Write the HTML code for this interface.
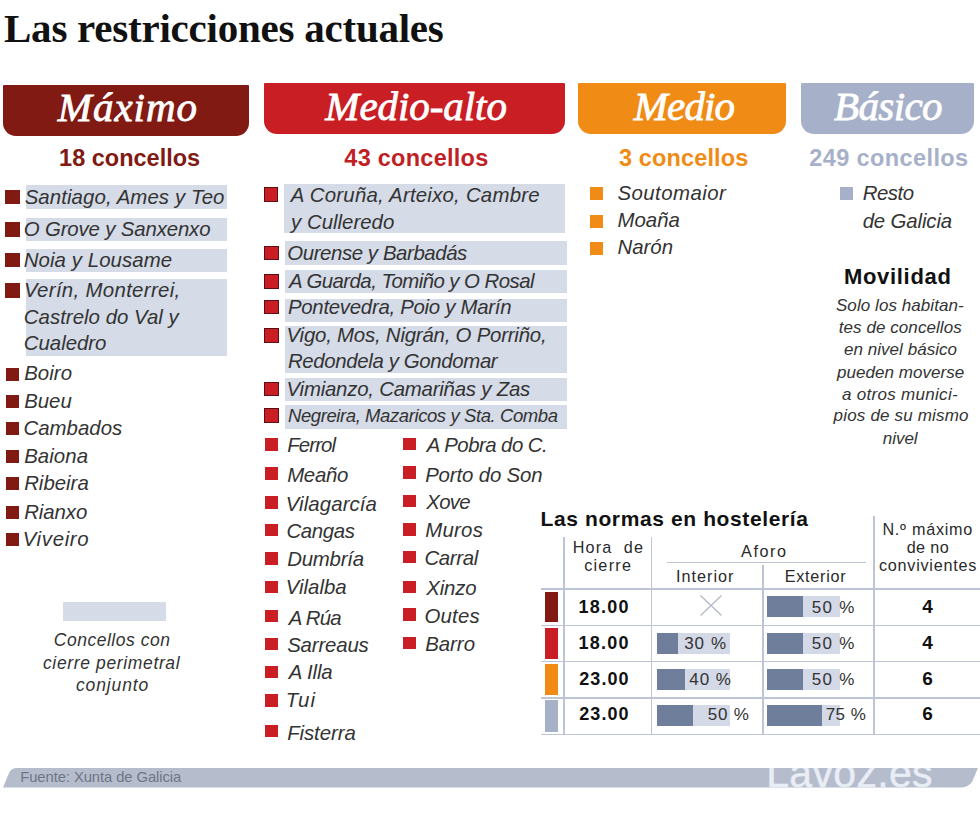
<!DOCTYPE html>
<html><head><meta charset="utf-8"><style>
html,body{margin:0;padding:0;background:#fff;}
body{width:980px;height:824px;position:relative;overflow:hidden;}
.t{position:absolute;white-space:nowrap;}
.r{position:absolute;}
.s{font-family:"Liberation Sans", sans-serif;}
.f{font-family:"Liberation Serif", serif;}
</style></head><body>
<div class="t f" style="left:4.00px;top:8.26px;font-size:41px;line-height:41px;font-weight:bold;color:#111;letter-spacing:-0.232px;">Las restricciones actuales</div>
<div class="r" style="left:3px;top:84.5px;width:246px;height:51px;background:#801a12;border-radius:1px 1px 13px 13px;"></div>
<div class="t f" style="left:57.82px;top:87.46px;font-size:41px;line-height:41px;font-style:italic;color:#fff;letter-spacing:0.982px;-webkit-text-stroke:0.8px #fff;">Máximo</div>
<div class="r" style="left:264px;top:83px;width:301px;height:51px;background:#c91f24;border-radius:1px 1px 13px 13px;"></div>
<div class="t f" style="left:325.31px;top:85.96px;font-size:41px;line-height:41px;font-style:italic;color:#fff;letter-spacing:-0.062px;-webkit-text-stroke:0.8px #fff;">Medio-alto</div>
<div class="r" style="left:578px;top:83px;width:208px;height:51px;background:#f08b16;border-radius:1px 1px 13px 13px;"></div>
<div class="t f" style="left:633.82px;top:85.96px;font-size:41px;line-height:41px;font-style:italic;color:#fff;letter-spacing:-0.892px;-webkit-text-stroke:0.8px #fff;">Medio</div>
<div class="r" style="left:801px;top:83px;width:173px;height:51px;background:#a6b1c9;border-radius:1px 1px 13px 13px;"></div>
<div class="t f" style="left:834.00px;top:85.96px;font-size:41px;line-height:41px;font-style:italic;color:#fff;letter-spacing:-0.604px;-webkit-text-stroke:0.8px #fff;">Básico</div>
<div class="t s" style="left:59.12px;top:146.51px;font-size:23.5px;line-height:23.5px;font-weight:bold;color:#801a12;letter-spacing:-0.005px;">18 concellos</div>
<div class="t s" style="left:344.34px;top:146.51px;font-size:23.5px;line-height:23.5px;font-weight:bold;color:#c01f25;letter-spacing:0.264px;">43 concellos</div>
<div class="t s" style="left:619.00px;top:146.51px;font-size:23.5px;line-height:23.5px;font-weight:bold;color:#f08b16;letter-spacing:0.124px;">3 concellos</div>
<div class="t s" style="left:809.30px;top:146.51px;font-size:23.5px;line-height:23.5px;font-weight:bold;color:#a6b1c9;letter-spacing:0.395px;">249 concellos</div>
<div class="r" style="left:25.7px;top:185.4px;width:201px;height:23.5px;background:#d5dbe7;"></div>
<div class="r" style="left:5px;top:189.5px;width:14.5px;height:14.5px;background:#801a12;box-sizing:border-box;"></div>
<div class="t s" style="left:24.64px;top:186.83px;font-size:20.4px;line-height:20.4px;font-style:italic;color:#333333;letter-spacing:0.095px;">Santiago, Ames y Teo</div>
<div class="r" style="left:25.7px;top:218px;width:201px;height:23.2px;background:#d5dbe7;"></div>
<div class="r" style="left:5px;top:222px;width:14.5px;height:14.5px;background:#801a12;box-sizing:border-box;"></div>
<div class="t s" style="left:23.80px;top:219.33px;font-size:20.4px;line-height:20.4px;font-style:italic;color:#333333;letter-spacing:-0.152px;">O Grove y Sanxenxo</div>
<div class="r" style="left:25.7px;top:248.6px;width:201px;height:23.2px;background:#d5dbe7;"></div>
<div class="r" style="left:5px;top:252.5px;width:14.5px;height:14.5px;background:#801a12;box-sizing:border-box;"></div>
<div class="t s" style="left:23.80px;top:250.03px;font-size:20.4px;line-height:20.4px;font-style:italic;color:#333333;letter-spacing:0.076px;">Noia y Lousame</div>
<div class="r" style="left:25.7px;top:279.2px;width:201px;height:77px;background:#d5dbe7;"></div>
<div class="r" style="left:5px;top:283.2px;width:14.5px;height:14.5px;background:#801a12;box-sizing:border-box;"></div>
<div class="t s" style="left:23.94px;top:280.03px;font-size:20.4px;line-height:20.4px;font-style:italic;color:#333333;letter-spacing:0.322px;">Verín, Monterrei,</div>
<div class="t s" style="left:23.80px;top:307.03px;font-size:20.4px;line-height:20.4px;font-style:italic;color:#333333;letter-spacing:0.028px;">Castrelo do Val y</div>
<div class="t s" style="left:23.80px;top:333.23px;font-size:20.4px;line-height:20.4px;font-style:italic;color:#333333;letter-spacing:-0.018px;">Cualedro</div>
<div class="r" style="left:5.5px;top:367.59999999999997px;width:13.3px;height:13.3px;background:#801a12;box-sizing:border-box;"></div>
<div class="t s" style="left:24.14px;top:363.43px;font-size:20.4px;line-height:20.4px;font-style:italic;color:#333333;letter-spacing:0.061px;">Boiro</div>
<div class="r" style="left:5.5px;top:394.8px;width:13.3px;height:13.3px;background:#801a12;box-sizing:border-box;"></div>
<div class="t s" style="left:24.14px;top:390.63px;font-size:20.4px;line-height:20.4px;font-style:italic;color:#333333;">Bueu</div>
<div class="r" style="left:5.5px;top:421.9px;width:13.3px;height:13.3px;background:#801a12;box-sizing:border-box;"></div>
<div class="t s" style="left:23.44px;top:417.73px;font-size:20.4px;line-height:20.4px;font-style:italic;color:#333333;letter-spacing:0.038px;">Cambados</div>
<div class="r" style="left:5.5px;top:449.8px;width:13.3px;height:13.3px;background:#801a12;box-sizing:border-box;"></div>
<div class="t s" style="left:24.14px;top:445.63px;font-size:20.4px;line-height:20.4px;font-style:italic;color:#333333;letter-spacing:0.071px;">Baiona</div>
<div class="r" style="left:5.5px;top:477.0px;width:13.3px;height:13.3px;background:#801a12;box-sizing:border-box;"></div>
<div class="t s" style="left:24.14px;top:472.83px;font-size:20.4px;line-height:20.4px;font-style:italic;color:#333333;letter-spacing:0.005px;">Ribeira</div>
<div class="r" style="left:5.5px;top:506.09999999999997px;width:13.3px;height:13.3px;background:#801a12;box-sizing:border-box;"></div>
<div class="t s" style="left:24.14px;top:501.93px;font-size:20.4px;line-height:20.4px;font-style:italic;color:#333333;letter-spacing:-0.069px;">Rianxo</div>
<div class="r" style="left:5.5px;top:533.2px;width:13.3px;height:13.3px;background:#801a12;box-sizing:border-box;"></div>
<div class="t s" style="left:22.74px;top:529.03px;font-size:20.4px;line-height:20.4px;font-style:italic;color:#333333;letter-spacing:0.654px;">Viveiro</div>
<div class="r" style="left:63px;top:602px;width:102.8px;height:19px;background:#d5dbe7;"></div>
<div class="t s" style="left:53.80px;top:632.49px;font-size:17.5px;line-height:17.5px;font-style:italic;color:#333333;letter-spacing:0.513px;">Concellos con</div>
<div class="t s" style="left:42.98px;top:654.69px;font-size:17.5px;line-height:17.5px;font-style:italic;color:#333333;letter-spacing:0.640px;">cierre perimetral</div>
<div class="t s" style="left:76.00px;top:676.89px;font-size:17.5px;line-height:17.5px;font-style:italic;color:#333333;letter-spacing:0.861px;">conjunto</div>
<div class="r" style="left:284.4px;top:184.1px;width:280.6px;height:49px;background:#d5dbe7;"></div>
<div class="r" style="left:263.5px;top:187.3px;width:14.5px;height:14.5px;background:#c91f24;box-sizing:border-box;border:1px solid #5c0f12;"></div>
<div class="t s" style="left:290.84px;top:184.73px;font-size:20.4px;line-height:20.4px;font-style:italic;color:#333333;letter-spacing:0.228px;">A Coruña, Arteixo, Cambre</div>
<div class="t s" style="left:291.08px;top:212.03px;font-size:20.4px;line-height:20.4px;font-style:italic;color:#333333;">y Culleredo</div>
<div class="r" style="left:284.5px;top:240.7px;width:282.7px;height:23.900000000000034px;background:#d5dbe7;"></div>
<div class="r" style="left:264px;top:245.5px;width:14.5px;height:14.5px;background:#c91f24;box-sizing:border-box;border:1px solid #5c0f12;"></div>
<div class="t s" style="left:287.28px;top:242.53px;font-size:20.4px;line-height:20.4px;font-style:italic;color:#333333;letter-spacing:-0.411px;">Ourense y Barbadás</div>
<div class="r" style="left:284.5px;top:269.8px;width:282.7px;height:23.19999999999999px;background:#d5dbe7;"></div>
<div class="r" style="left:264px;top:274.1px;width:14.5px;height:14.5px;background:#c91f24;box-sizing:border-box;border:1px solid #5c0f12;"></div>
<div class="t s" style="left:289.00px;top:271.13px;font-size:20.4px;line-height:20.4px;font-style:italic;color:#333333;letter-spacing:-0.546px;">A Guarda, Tomiño y O Rosal</div>
<div class="r" style="left:284.5px;top:298.8px;width:282.7px;height:23.19999999999999px;background:#d5dbe7;"></div>
<div class="r" style="left:264px;top:299.8px;width:14.5px;height:14.5px;background:#c91f24;box-sizing:border-box;border:1px solid #5c0f12;"></div>
<div class="t s" style="left:287.98px;top:296.83px;font-size:20.4px;line-height:20.4px;font-style:italic;color:#333333;letter-spacing:-0.282px;">Pontevedra, Poio y Marín</div>
<div class="r" style="left:284.5px;top:326.1px;width:282.7px;height:46.599999999999966px;background:#d5dbe7;"></div>
<div class="r" style="left:264px;top:328.0px;width:14.5px;height:14.5px;background:#c91f24;box-sizing:border-box;border:1px solid #5c0f12;"></div>
<div class="t s" style="left:286.58px;top:325.03px;font-size:20.4px;line-height:20.4px;font-style:italic;color:#333333;letter-spacing:-0.212px;">Vigo, Mos, Nigrán, O Porriño,</div>
<div class="t s" style="left:287.98px;top:351.33px;font-size:20.4px;line-height:20.4px;font-style:italic;color:#333333;letter-spacing:-0.359px;">Redondela y Gondomar</div>
<div class="r" style="left:284.5px;top:378.0px;width:282.7px;height:23.19999999999999px;background:#d5dbe7;"></div>
<div class="r" style="left:264px;top:381.6px;width:14.5px;height:14.5px;background:#c91f24;box-sizing:border-box;border:1px solid #5c0f12;"></div>
<div class="t s" style="left:286.58px;top:378.63px;font-size:20.4px;line-height:20.4px;font-style:italic;color:#333333;letter-spacing:-0.221px;">Vimianzo, Camariñas y Zas</div>
<div class="r" style="left:284.5px;top:405.3px;width:282.7px;height:23.399999999999977px;background:#d5dbe7;"></div>
<div class="r" style="left:264px;top:408.0px;width:14.5px;height:14.5px;background:#c91f24;box-sizing:border-box;border:1px solid #5c0f12;"></div>
<div class="t s" style="left:287.98px;top:406.64px;font-size:18.5px;line-height:18.5px;font-style:italic;color:#333333;letter-spacing:-0.411px;">Negreira, Mazaricos y Sta. Comba</div>
<div class="r" style="left:265px;top:438.2px;width:12.8px;height:12.6px;background:#c91f24;box-sizing:border-box;"></div>
<div class="t s" style="left:287.14px;top:434.63px;font-size:20.4px;line-height:20.4px;font-style:italic;color:#333333;letter-spacing:-0.847px;">Ferrol</div>
<div class="r" style="left:265px;top:467.1px;width:12.8px;height:12.6px;background:#c91f24;box-sizing:border-box;"></div>
<div class="t s" style="left:287.14px;top:464.53px;font-size:20.4px;line-height:20.4px;font-style:italic;color:#333333;letter-spacing:-0.261px;">Meaño</div>
<div class="r" style="left:265px;top:496.4px;width:12.8px;height:12.6px;background:#c91f24;box-sizing:border-box;"></div>
<div class="t s" style="left:285.74px;top:494.03px;font-size:20.4px;line-height:20.4px;font-style:italic;color:#333333;letter-spacing:0.101px;">Vilagarcía</div>
<div class="r" style="left:265px;top:523.8px;width:12.8px;height:12.6px;background:#c91f24;box-sizing:border-box;"></div>
<div class="t s" style="left:286.44px;top:521.23px;font-size:20.4px;line-height:20.4px;font-style:italic;color:#333333;letter-spacing:-0.376px;">Cangas</div>
<div class="r" style="left:265px;top:552px;width:12.8px;height:12.6px;background:#c91f24;box-sizing:border-box;"></div>
<div class="t s" style="left:287.14px;top:548.73px;font-size:20.4px;line-height:20.4px;font-style:italic;color:#333333;letter-spacing:-0.199px;">Dumbría</div>
<div class="r" style="left:265px;top:580.5px;width:12.8px;height:12.6px;background:#c91f24;box-sizing:border-box;"></div>
<div class="t s" style="left:285.74px;top:576.53px;font-size:20.4px;line-height:20.4px;font-style:italic;color:#333333;letter-spacing:0.008px;">Vilalba</div>
<div class="r" style="left:265px;top:609.6px;width:12.8px;height:12.6px;background:#c91f24;box-sizing:border-box;"></div>
<div class="t s" style="left:288.86px;top:608.13px;font-size:20.4px;line-height:20.4px;font-style:italic;color:#333333;letter-spacing:-0.809px;">A Rúa</div>
<div class="r" style="left:265px;top:637.7px;width:12.8px;height:12.6px;background:#c91f24;box-sizing:border-box;"></div>
<div class="t s" style="left:287.14px;top:634.93px;font-size:20.4px;line-height:20.4px;font-style:italic;color:#333333;letter-spacing:-0.158px;">Sarreaus</div>
<div class="r" style="left:265px;top:665.9px;width:12.8px;height:12.6px;background:#c91f24;box-sizing:border-box;"></div>
<div class="t s" style="left:288.86px;top:662.13px;font-size:20.4px;line-height:20.4px;font-style:italic;color:#333333;letter-spacing:-0.151px;">A Illa</div>
<div class="r" style="left:265px;top:694px;width:12.8px;height:12.6px;background:#c91f24;box-sizing:border-box;"></div>
<div class="t s" style="left:285.74px;top:690.23px;font-size:20.4px;line-height:20.4px;font-style:italic;color:#333333;letter-spacing:1.202px;">Tui</div>
<div class="r" style="left:265px;top:724.7px;width:12.8px;height:12.6px;background:#c91f24;box-sizing:border-box;"></div>
<div class="t s" style="left:287.14px;top:722.73px;font-size:20.4px;line-height:20.4px;font-style:italic;color:#333333;letter-spacing:-0.065px;">Fisterra</div>
<div class="r" style="left:403px;top:437.8px;width:13px;height:12.6px;background:#c91f24;box-sizing:border-box;"></div>
<div class="t s" style="left:426.86px;top:435.33px;font-size:20.4px;line-height:20.4px;font-style:italic;color:#333333;letter-spacing:-0.542px;">A Pobra do C.</div>
<div class="r" style="left:403px;top:466.3px;width:13px;height:12.6px;background:#c91f24;box-sizing:border-box;"></div>
<div class="t s" style="left:425.14px;top:464.73px;font-size:20.4px;line-height:20.4px;font-style:italic;color:#333333;letter-spacing:-0.141px;">Porto do Son</div>
<div class="r" style="left:403px;top:494.8px;width:13px;height:12.6px;background:#c91f24;box-sizing:border-box;"></div>
<div class="t s" style="left:426.25px;top:491.73px;font-size:20.4px;line-height:20.4px;font-style:italic;color:#333333;letter-spacing:-0.693px;">Xove</div>
<div class="r" style="left:403px;top:523px;width:13px;height:12.6px;background:#c91f24;box-sizing:border-box;"></div>
<div class="t s" style="left:425.14px;top:519.73px;font-size:20.4px;line-height:20.4px;font-style:italic;color:#333333;letter-spacing:0.287px;">Muros</div>
<div class="r" style="left:403px;top:550.6px;width:13px;height:12.6px;background:#c91f24;box-sizing:border-box;"></div>
<div class="t s" style="left:424.44px;top:547.63px;font-size:20.4px;line-height:20.4px;font-style:italic;color:#333333;letter-spacing:-0.356px;">Carral</div>
<div class="r" style="left:403px;top:580.8px;width:13px;height:12.6px;background:#c91f24;box-sizing:border-box;"></div>
<div class="t s" style="left:426.25px;top:577.83px;font-size:20.4px;line-height:20.4px;font-style:italic;color:#333333;letter-spacing:-0.187px;">Xinzo</div>
<div class="r" style="left:403px;top:608.2px;width:13px;height:12.6px;background:#c91f24;box-sizing:border-box;"></div>
<div class="t s" style="left:424.44px;top:605.73px;font-size:20.4px;line-height:20.4px;font-style:italic;color:#333333;letter-spacing:0.238px;">Outes</div>
<div class="r" style="left:403px;top:636.6px;width:13px;height:12.6px;background:#c91f24;box-sizing:border-box;"></div>
<div class="t s" style="left:425.14px;top:633.63px;font-size:20.4px;line-height:20.4px;font-style:italic;color:#333333;">Barro</div>
<div class="r" style="left:589.8px;top:186.8px;width:13.1px;height:13.1px;background:#f08b16;box-sizing:border-box;"></div>
<div class="t s" style="left:617.48px;top:182.83px;font-size:20.4px;line-height:20.4px;font-style:italic;color:#333333;letter-spacing:0.442px;">Soutomaior</div>
<div class="r" style="left:589.8px;top:215px;width:13.1px;height:13.1px;background:#f08b16;box-sizing:border-box;"></div>
<div class="t s" style="left:617.48px;top:209.93px;font-size:20.4px;line-height:20.4px;font-style:italic;color:#333333;letter-spacing:0.029px;">Moaña</div>
<div class="r" style="left:589.8px;top:242px;width:13.1px;height:13.1px;background:#f08b16;box-sizing:border-box;"></div>
<div class="t s" style="left:617.48px;top:237.23px;font-size:20.4px;line-height:20.4px;font-style:italic;color:#333333;letter-spacing:-0.008px;">Narón</div>
<div class="r" style="left:839.9px;top:187.2px;width:13.1px;height:12.8px;background:#a6b1c9;box-sizing:border-box;"></div>
<div class="t s" style="left:862.66px;top:183.33px;font-size:20.4px;line-height:20.4px;font-style:italic;color:#333333;letter-spacing:-0.431px;">Resto</div>
<div class="t s" style="left:862.66px;top:210.63px;font-size:20.4px;line-height:20.4px;font-style:italic;color:#333333;letter-spacing:-0.129px;">de Galicia</div>
<div class="t s" style="left:843.94px;top:265.68px;font-size:22px;line-height:22px;font-weight:bold;color:#111;letter-spacing:0.690px;">Movilidad</div>
<div class="t s" style="left:835.98px;top:297.31px;font-size:17px;line-height:17px;font-style:italic;color:#333333;letter-spacing:0.066px;">Solo los habitan-</div>
<div class="t s" style="left:838.80px;top:319.41px;font-size:17px;line-height:17px;font-style:italic;color:#333333;letter-spacing:0.065px;">tes de concellos</div>
<div class="t s" style="left:844.00px;top:340.81px;font-size:17px;line-height:17px;font-style:italic;color:#333333;letter-spacing:0.039px;">en nivel básico</div>
<div class="t s" style="left:837.10px;top:363.81px;font-size:17px;line-height:17px;font-style:italic;color:#333333;letter-spacing:0.033px;">pueden moverse</div>
<div class="t s" style="left:842.00px;top:385.51px;font-size:17px;line-height:17px;font-style:italic;color:#333333;letter-spacing:0.296px;">a otros munici-</div>
<div class="t s" style="left:833.60px;top:407.31px;font-size:17px;line-height:17px;font-style:italic;color:#333333;letter-spacing:0.177px;">pios de su mismo</div>
<div class="t s" style="left:882.84px;top:429.51px;font-size:17px;line-height:17px;font-style:italic;color:#333333;letter-spacing:-0.050px;">nivel</div>
<div class="t s" style="left:540.46px;top:507.72px;font-size:21px;line-height:21px;font-weight:bold;color:#111;letter-spacing:0.618px;">Las normas en hostelería</div>
<div class="r" style="left:563px;top:537px;width:1.6px;height:197.5px;background:#bcc4d5;"></div>
<div class="r" style="left:650.5px;top:537px;width:1.6px;height:197.5px;background:#bcc4d5;"></div>
<div class="r" style="left:762px;top:565px;width:1.6px;height:169.5px;background:#bcc4d5;"></div>
<div class="r" style="left:873.2px;top:515.5px;width:1.6px;height:219px;background:#bcc4d5;"></div>
<div class="r" style="left:666.5px;top:561.5px;width:199px;height:1.6px;background:#bcc4d5;"></div>
<div class="r" style="left:540.5px;top:588.3px;width:439.5px;height:1.6px;background:#bcc4d5;"></div>
<div class="r" style="left:540.5px;top:624.5px;width:439.5px;height:1.6px;background:#bcc4d5;"></div>
<div class="r" style="left:540.5px;top:660.8px;width:439.5px;height:1.6px;background:#bcc4d5;"></div>
<div class="r" style="left:540.5px;top:697.3px;width:439.5px;height:1.6px;background:#bcc4d5;"></div>
<div class="r" style="left:540.5px;top:733.5px;width:439.5px;height:1.6px;background:#bcc4d5;"></div>
<div class="t s" style="left:572.78px;top:539.39px;font-size:16.2px;line-height:16.2px;color:#2a2a2a;letter-spacing:1.162px;">Hora&nbsp; de</div>
<div class="t s" style="left:584.14px;top:556.99px;font-size:16.2px;line-height:16.2px;color:#2a2a2a;letter-spacing:1.272px;">cierre</div>
<div class="t s" style="left:741.00px;top:542.89px;font-size:16.2px;line-height:16.2px;color:#2a2a2a;letter-spacing:1.581px;">Aforo</div>
<div class="t s" style="left:676.08px;top:567.59px;font-size:16.2px;line-height:16.2px;color:#2a2a2a;letter-spacing:0.983px;">Interior</div>
<div class="t s" style="left:784.78px;top:567.59px;font-size:16.2px;line-height:16.2px;color:#2a2a2a;letter-spacing:0.724px;">Exterior</div>
<div class="t s" style="left:882.46px;top:520.59px;font-size:16.2px;line-height:16.2px;color:#2a2a2a;letter-spacing:0.728px;">N.º máximo</div>
<div class="t s" style="left:906.66px;top:538.69px;font-size:16.2px;line-height:16.2px;color:#2a2a2a;letter-spacing:0.405px;">de no</div>
<div class="t s" style="left:879.00px;top:556.99px;font-size:16.2px;line-height:16.2px;color:#2a2a2a;letter-spacing:0.744px;">convivientes</div>
<div class="r" style="left:544.9px;top:591.6px;width:13.6px;height:30.899999999999977px;background:#801a12;"></div>
<div class="t s" style="left:578.62px;top:597.76px;font-size:18px;line-height:18px;font-weight:bold;color:#111;letter-spacing:1.203px;">18.00</div>
<div class="t s" style="left:922.18px;top:596.92px;font-size:19px;line-height:19px;font-weight:bold;color:#111;">4</div>
<div class="r" style="left:766.9px;top:595.8px;width:73.1px;height:20.9px;background:#d3d9e6;"></div>
<div class="r" style="left:766.9px;top:595.8px;width:35.9px;height:20.9px;background:#6f7f9b;"></div>
<div class="t s" style="left:811.78px;top:598.61px;font-size:17px;line-height:17px;color:#333;letter-spacing:1.267px;">50 %</div>
<svg class="r" style="left:699px;top:594px" width="24" height="23"><path d="M1.5 1.5L22.5 21.5M22.5 1.5L1.5 21.5" stroke="#b4b9c6" stroke-width="1.3" fill="none"/></svg>
<div class="r" style="left:544.9px;top:627.7px;width:13.6px;height:31.199999999999932px;background:#c91f24;"></div>
<div class="t s" style="left:578.62px;top:634.16px;font-size:18px;line-height:18px;font-weight:bold;color:#111;letter-spacing:1.203px;">18.00</div>
<div class="t s" style="left:922.18px;top:633.32px;font-size:19px;line-height:19px;font-weight:bold;color:#111;">4</div>
<div class="r" style="left:766.9px;top:633.2px;width:73.1px;height:20.9px;background:#d3d9e6;"></div>
<div class="r" style="left:766.9px;top:633.2px;width:35.9px;height:20.9px;background:#6f7f9b;"></div>
<div class="t s" style="left:811.78px;top:635.01px;font-size:17px;line-height:17px;color:#333;letter-spacing:1.267px;">50 %</div>
<div class="r" style="left:656.6px;top:633.2px;width:73.2px;height:21.1px;background:#d3d9e6;"></div>
<div class="r" style="left:656.6px;top:633.2px;width:21.1px;height:21.1px;background:#6f7f9b;"></div>
<div class="t s" style="left:684.14px;top:635.01px;font-size:17px;line-height:17px;color:#333;letter-spacing:1.040px;">30 %</div>
<div class="r" style="left:544.9px;top:663.9px;width:13.6px;height:31.399999999999977px;background:#f08b16;"></div>
<div class="t s" style="left:579.32px;top:669.76px;font-size:18px;line-height:18px;font-weight:bold;color:#111;letter-spacing:1.028px;">23.00</div>
<div class="t s" style="left:922.18px;top:668.92px;font-size:19px;line-height:19px;font-weight:bold;color:#111;">6</div>
<div class="r" style="left:766.9px;top:669.3px;width:73.1px;height:20.9px;background:#d3d9e6;"></div>
<div class="r" style="left:766.9px;top:669.3px;width:35.9px;height:20.9px;background:#6f7f9b;"></div>
<div class="t s" style="left:811.78px;top:670.61px;font-size:17px;line-height:17px;color:#333;letter-spacing:1.267px;">50 %</div>
<div class="r" style="left:656.6px;top:669.3px;width:73.2px;height:21.1px;background:#d3d9e6;"></div>
<div class="r" style="left:656.6px;top:669.3px;width:28.6px;height:21.1px;background:#6f7f9b;"></div>
<div class="t s" style="left:689.34px;top:670.61px;font-size:17px;line-height:17px;color:#333;letter-spacing:0.967px;">40 %</div>
<div class="r" style="left:544.9px;top:700.0px;width:13.6px;height:31.700000000000045px;background:#a6b1c9;"></div>
<div class="t s" style="left:579.32px;top:705.06px;font-size:18px;line-height:18px;font-weight:bold;color:#111;letter-spacing:1.028px;">23.00</div>
<div class="t s" style="left:922.18px;top:704.22px;font-size:19px;line-height:19px;font-weight:bold;color:#111;">6</div>
<div class="r" style="left:766.9px;top:704.8px;width:73.1px;height:20.9px;background:#d3d9e6;"></div>
<div class="r" style="left:766.9px;top:704.8px;width:54.7px;height:20.9px;background:#6f7f9b;"></div>
<div class="t s" style="left:825.64px;top:705.91px;font-size:17px;line-height:17px;color:#333;letter-spacing:0.480px;">75 %</div>
<div class="r" style="left:656.6px;top:704.8px;width:73.2px;height:21.1px;background:#d3d9e6;"></div>
<div class="r" style="left:656.6px;top:704.8px;width:36.1px;height:21.1px;background:#6f7f9b;"></div>
<div class="t s" style="left:707.64px;top:705.91px;font-size:17px;line-height:17px;color:#333;letter-spacing:0.867px;">50 %</div>
<svg class="r" style="left:0;top:768px" width="980" height="20"><path d="M17 0 L978 0 L972 14 Q968 19.5 960 19.5 L3 19.5 L9 5 Q11 0 17 0 Z" fill="#b5bdcd"/></svg>
<div class="t s" style="left:20.28px;top:769.57px;font-size:14.8px;line-height:14.8px;color:#6e7587;letter-spacing:-0.083px;">Fuente: Xunta de Galicia</div>
<div class="r" style="left:0;top:768px;width:980px;height:20px;overflow:hidden;">
<div class="t s" style="left:766.20px;top:-14.91px;font-size:41px;line-height:41px;color:#e9edf5;letter-spacing:0.328px;-webkit-text-stroke:0.4px #e9edf5;">Lavoz.es</div>
</div>
</body></html>
